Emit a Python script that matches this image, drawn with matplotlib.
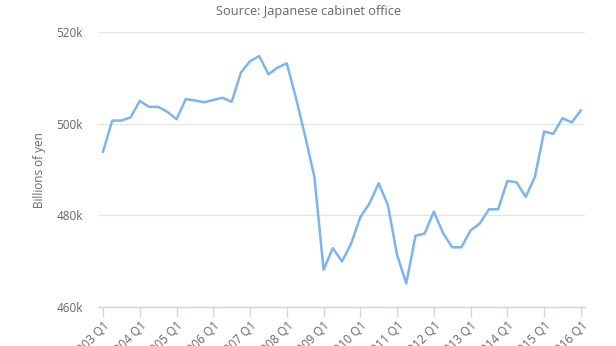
import matplotlib
matplotlib.use("Agg")
import matplotlib.pyplot as plt

quarters = [f"{y} Q{q}" for y in range(2003, 2017) for q in range(1, 5)][:53]
gdp = [493.9, 500.7, 500.7, 501.4, 505.0, 503.7, 503.7, 502.6, 501.0, 505.4,
       505.1, 504.7, 505.2, 505.7, 504.8, 511.2, 513.7, 514.8, 510.8, 512.3,
       513.2, 505.6, 497.2, 488.4, 468.1, 472.8, 469.9, 473.8, 479.6, 482.6,
       487.0, 482.2, 471.3, 465.1, 475.5, 476.0, 480.8, 476.1, 473.0, 473.0,
       476.7, 478.2, 481.3, 481.3, 487.5, 487.2, 484.0, 488.4, 498.3, 497.8,
       501.2, 500.3, 502.9]
gdp = [v * 1000 for v in gdp]
yticks = [460000, 480000, 500000, 520000]
ytick_labels = ["460k", "480k", "500k", "520k"]
title = "Source: Japanese cabinet office"
ylabel = "Billions of yen"

plt.rcParams['font.family'] = ['Open Sans', 'DejaVu Sans']
fig = plt.figure(figsize=(6.16, 3.46), dpi=100)
ax = fig.add_axes([98/616, (346-306.7)/346, (585-98)/616, (306.7-32.3)/346])

x = list(range(len(gdp)))
ax.plot(x, gdp, color="#7cb5ec", lw=1.8, solid_joinstyle="round", clip_on=False, zorder=3)

ax.set_ylim(460000, 520000)
ax.set_xlim(-0.55, 52.45)
ax.set_yticks(yticks)
ax.set_yticklabels(ytick_labels, color="#666666", fontsize=8.5)
ax.tick_params(axis="y", length=0, pad=11)
ax.yaxis.grid(True, color="#e6e6e6", lw=1)
ax.set_axisbelow(True)

tick_pos = [i for i in x if i % 4 == 0]
ax.set_xticks(tick_pos)
ax.set_xticklabels([quarters[i] for i in tick_pos], rotation=45, ha="right",
                   va="top", rotation_mode="anchor", color="#666666", fontsize=8.5)
ax.tick_params(axis="x", length=7, width=1, color="#ccd6eb", pad=1.5)

for s in ["top", "right", "left"]:
    ax.spines[s].set_visible(False)
ax.spines["bottom"].set_color("#ccd6eb")
ax.spines["bottom"].set_linewidth(1)

fig.text(40/616, 1 - 170/346, ylabel, rotation=90, ha="center", va="center",
         color="#666666", fontsize=8.5)
fig.text(308/616, 1 - 11/346, title, ha="center", va="center",
         color="#666666", fontsize=9.2)

fig.savefig("out.png", dpi=100)
